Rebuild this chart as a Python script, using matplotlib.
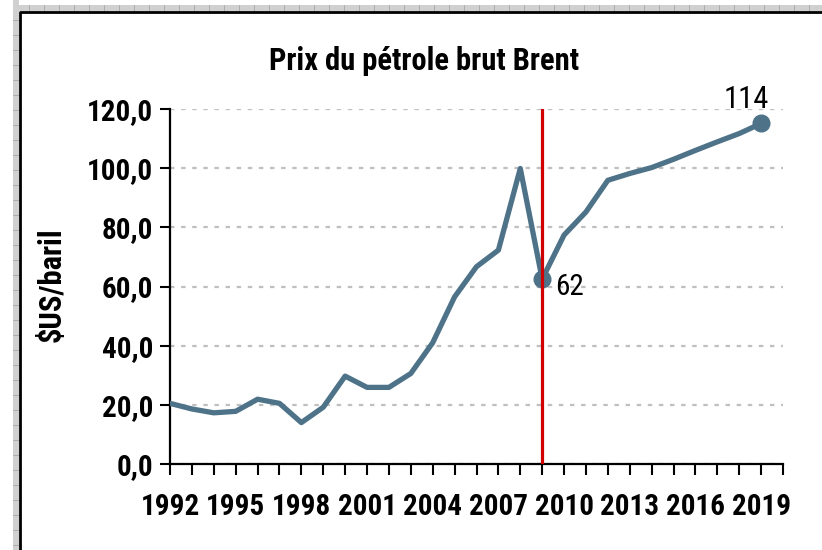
import matplotlib
matplotlib.use("Agg")
import matplotlib.pyplot as plt
from matplotlib.patches import Rectangle
from matplotlib.lines import Line2D

years = list(range(1992, 2020))
prices = [20.5, 18.6, 17.3, 17.8, 21.9, 20.5, 14.0, 19.2, 29.7, 25.9,
          25.9, 30.6, 41.0, 56.5, 66.7, 72.3, 99.9, 62.5, 77.4, 85.2,
          95.9, 98.2, 100.2, 103.0, 106.0, 108.9, 111.7, 115.1]
tick_years = list(range(1992, 2020, 3))
y_ticks = [0, 20, 40, 60, 80, 100, 120]
y_tick_labels = ["0,0", "20,0", "40,0", "60,0", "80,0", "100,0", "120,0"]
marker_years = [2009, 2019]
marker_labels = ["62", "114"]
crisis_year = 2009

plt.rcParams['font.family'] = ['Roboto Condensed', 'Archivo Narrow', 'DejaVu Sans']

W, H = 822, 550
fig = plt.figure(figsize=(W / 100, H / 100), dpi=100)
fig.patch.set_facecolor("white")

def fx(px):
    return px / W

def fy(py):
    return 1 - py / H

# Excel-like sheet frame
fig.patches.append(Rectangle((fx(13), fy(550)), fx(6), 1, transform=fig.transFigure,
                             facecolor="#d0d0d0", edgecolor="none", zorder=0))
fig.patches.append(Rectangle((fx(13), fy(11)), 1, 6 / H, transform=fig.transFigure,
                             facecolor="#d0d0d0", edgecolor="none", zorder=0))
for xp in range(29, 822, 15):
    fig.lines.append(Line2D([fx(xp), fx(xp)], [fy(5), fy(11)], transform=fig.transFigure,
                            color="#a8a8a8", lw=0.6))
for yp in range(20, 550, 15):
    fig.lines.append(Line2D([fx(13), fx(19)], [fy(yp), fy(yp)], transform=fig.transFigure,
                            color="#a8a8a8", lw=0.6))
fig.lines.append(Line2D([fx(19.5), fx(19.5), fx(822)], [fy(550), fy(11.5), fy(11.5)],
                        transform=fig.transFigure, color="black", lw=2.0))

ax = fig.add_axes([170 / W, 1 - 464 / H, (783 - 170) / W, (464 - 109) / H])
ax.set_xlim(1992, 2020)
ax.set_ylim(0, 120)

ax.plot(years, prices, color="#4e7389", lw=3.8, solid_joinstyle="round", zorder=3)
for yr in marker_years:
    v = prices[years.index(yr)]
    ax.plot([yr], [v], "o", color="#4e7389", ms=12, zorder=4)
ax.axvline(crisis_year, ymin=0, ymax=1, color="#d00000", lw=2.3, zorder=5)

v62 = prices[years.index(marker_years[0])]
ax.annotate(marker_labels[0], (marker_years[0], v62), xytext=(9, -6), textcoords="offset points",
            fontsize=21, ha="left", va="center")
v114 = prices[years.index(marker_years[1])]
ax.annotate(marker_labels[1], (marker_years[1], v114), xytext=(-11, 17), textcoords="offset points",
            fontsize=22, ha="center", va="center")

ax.set_yticks(y_ticks)
ax.set_yticklabels(y_tick_labels, fontsize=21, fontweight="bold")
ax.set_xticks(years + [2020], minor=False)
ax.set_xticklabels([str(y) if y in tick_years else "" for y in years] + [""],
                   fontsize=21, fontweight="bold")
ax.tick_params(axis="x", length=8, width=1.5, direction="out", pad=13)
ax.tick_params(axis="y", length=7, width=1.5, direction="out", pad=5)

ax.grid(axis="y", color="#bfbfbf", linestyle=(0, (2, 3)), lw=1.6)
ax.set_axisbelow(True)
for s in ["top", "right"]:
    ax.spines[s].set_visible(False)
for s in ["left", "bottom"]:
    ax.spines[s].set_linewidth(1.6)

fig.text(fx(424), fy(61), "Prix du pétrole brut Brent", fontsize=22, fontweight="bold",
         ha="center", va="center")
fig.text(fx(52), fy(285), "$US/baril", fontsize=22, fontweight="bold", rotation=90,
         ha="center", va="center")

fig.savefig("out.png", dpi=100)
